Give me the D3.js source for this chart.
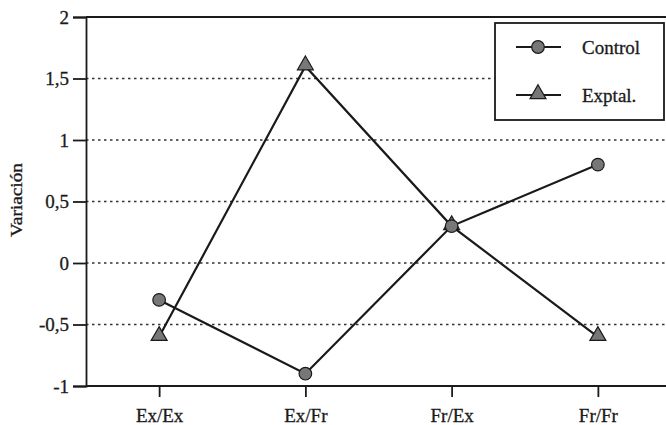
<!DOCTYPE html>
<html><head><meta charset="utf-8">
<script src="https://cdn.jsdelivr.net/npm/d3@7"></script>
<style>
html,body{margin:0;padding:0;background:#fff;}
svg{display:block;}
text{font-family:"Liberation Serif","Times New Roman",serif;fill:#1a1a1a;stroke:#1a1a1a;stroke-width:0.3px;}
</style></head>
<body><svg id="c" width="666" height="425"></svg>
<script>
const categories = ["Ex/Ex", "Ex/Fr", "Fr/Ex", "Fr/Fr"];
const controlValues = [-0.3, -0.9, 0.3, 0.8];
const exptalValues = [-0.6, 1.6, 0.3, -0.6];
const yTicks = [-1, -0.5, 0, 0.5, 1, 1.5, 2];
const gridTicks = [-0.5, 0, 0.5, 1, 1.5];
const seriesNames = ["Control", "Exptal."];

(function () {
const svg = d3.select("#c");
const pLeft = 86, pRight = 671, pTop = 17, pBottom = 386;
const x = d3.scalePoint().domain(categories).range([pLeft, pRight]).padding(0.5);
const y = d3.scaleLinear().domain([-1, 2]).range([pBottom, pTop]);
const fmt = v => String(v).replace(".", ",");
const ink = "#1a1a1a";
const fs = "19px";

// grid
svg.append("g").selectAll("line").data(gridTicks).join("line")
  .attr("x1", pLeft).attr("x2", 666)
  .attr("y1", d => y(d)).attr("y2", d => y(d))
  .attr("stroke", "#333").attr("stroke-width", 1.6).attr("stroke-dasharray", "2.5,3.5");

// top frame line
svg.append("line").attr("x1", pLeft).attr("x2", 666).attr("y1", y(2)).attr("y2", y(2))
  .attr("stroke", ink).attr("stroke-width", 1.8);

// y axis
const yAxis = svg.append("g").attr("transform", `translate(${pLeft},0)`)
  .call(d3.axisLeft(y).tickValues(yTicks).tickFormat(fmt).tickSize(13).tickPadding(4));
yAxis.select(".domain").attr("stroke", ink).attr("stroke-width", 1.8);
yAxis.selectAll(".tick line").attr("stroke", ink).attr("stroke-width", 1.8);
yAxis.selectAll("text").style("font-size", fs).attr("fill", ink)
  .style("font-family", '"Liberation Serif",serif');

// x axis
const xAxis = svg.append("g").attr("transform", `translate(0,${pBottom})`)
  .call(d3.axisBottom(x).tickSize(11).tickPadding(12).tickSizeOuter(0));
xAxis.select(".domain").attr("d", `M${pLeft},0H666`).attr("stroke", ink).attr("stroke-width", 1.8);
xAxis.selectAll(".tick line").attr("stroke", ink).attr("stroke-width", 1.8);
xAxis.selectAll("text").style("font-size", fs).attr("fill", ink)
  .style("font-family", '"Liberation Serif",serif');

// y title
svg.append("text").attr("transform", `translate(22,200) rotate(-90)`)
  .attr("text-anchor", "middle").style("font-size", "16px")
  .attr("textLength", 74).attr("lengthAdjust", "spacingAndGlyphs").text("Variación");

const line = d3.line().x((d, i) => x(categories[i])).y(d => y(d));
const markerFill = "#777";
const tri = d3.symbol().type(d3.symbolTriangle).size(110);

svg.append("path").attr("d", line(controlValues)).attr("fill", "none").attr("stroke", ink).attr("stroke-width", 2.2);
svg.append("path").attr("d", line(exptalValues)).attr("fill", "none").attr("stroke", ink).attr("stroke-width", 2.2);

svg.append("g").selectAll("path").data(exptalValues).join("path")
  .attr("d", tri).attr("transform", (d, i) => `translate(${x(categories[i])},${y(d) - 1})`)
  .attr("fill", markerFill).attr("stroke", ink).attr("stroke-width", 1.2);
svg.append("g").selectAll("circle").data(controlValues).join("circle")
  .attr("cx", (d, i) => x(categories[i])).attr("cy", d => y(d)).attr("r", 6.3)
  .attr("fill", markerFill).attr("stroke", ink).attr("stroke-width", 1.2);

// legend
const lg = svg.append("g");
lg.append("rect").attr("x", 495).attr("y", 23).attr("width", 169).attr("height", 97)
  .attr("fill", "#fff").attr("stroke", ink).attr("stroke-width", 1.8);
const rows = [47, 95];
seriesNames.forEach((name, i) => {
  const cy = rows[i];
  lg.append("line").attr("x1", 516).attr("x2", 561).attr("y1", cy).attr("y2", cy)
    .attr("stroke", ink).attr("stroke-width", 2.2);
  if (i === 0) {
    lg.append("circle").attr("cx", 538).attr("cy", cy).attr("r", 6.3)
      .attr("fill", markerFill).attr("stroke", ink).attr("stroke-width", 1.2);
  } else {
    lg.append("path").attr("d", tri).attr("transform", `translate(538,${cy - 1})`)
      .attr("fill", markerFill).attr("stroke", ink).attr("stroke-width", 1.2);
  }
  lg.append("text").attr("x", 582).attr("y", cy).attr("dy", "0.35em")
    .style("font-size", fs).text(name);
});
})();
</script></body></html>
